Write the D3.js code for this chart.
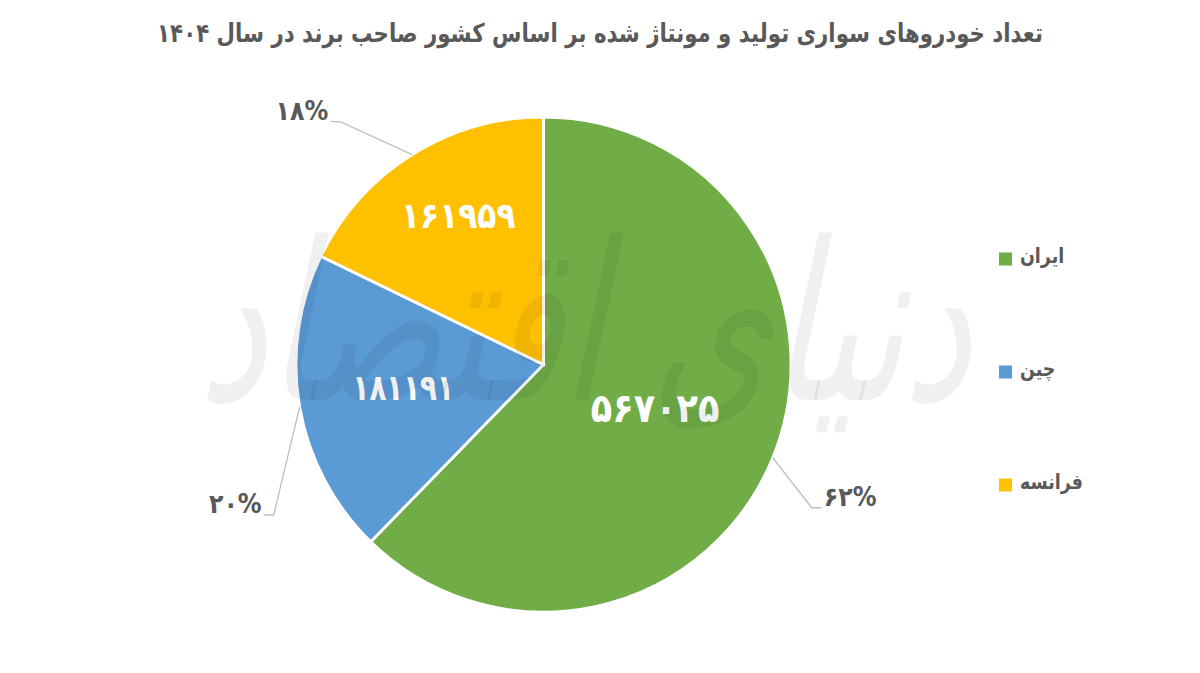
<!DOCTYPE html>
<html lang="fa"><head><meta charset="utf-8">
<script src="https://cdn.jsdelivr.net/npm/d3@7/dist/d3.min.js"></script>
<style>html,body{margin:0;padding:0;background:#fff}svg{display:block}text{font-family:"DejaVu Sans",sans-serif}</style>
</head><body><svg id="c" width="1200" height="673"></svg>
<script>
const categories = ["ایران","چین","فرانسه"];
const values = [567025,181191,161959];
const valueLabels = ["۵۶۷۰۲۵","۱۸۱۱۹۱","۱۶۱۹۵۹"];
const percentLabels = ["۶۲%","۲۰%","۱۸%"];
const colors = ["#70AD47","#5B9BD5","#FFC000"];
const titleText = "تعداد خودروهای سواری تولید و مونتاژ شده بر اساس کشور صاحب برند در سال ۱۴۰۴";
const watermark = "دنیای اقتصاد";

const svg = d3.select("#c");
const cx = 543.5, cy = 364.5, R = 247.5;
const color = d3.scaleOrdinal(categories, colors);
const pie = d3.pie().sort(null).value((d,i)=>values[i]);
const arcs = pie(categories);
const arc = d3.arc().innerRadius(0).outerRadius(R);

svg.append("text").attr("transform","translate(600,42) scale(0.82,1)").attr("text-anchor","middle").attr("direction","rtl")
  .attr("font-size",26).attr("font-weight",700).attr("fill","#595959").text(titleText);

const g = svg.append("g").attr("transform",`translate(${cx},${cy})`);
g.selectAll("path.s").data(arcs).join("path").attr("class","s").attr("d",arc)
  .attr("fill",d=>color(d.data)).attr("stroke","#fff").attr("stroke-width",2.8);

const labelR = [0.5,0.6,0.68];
const labelShift = [[-3,0],[6,0],[4,-4]];
const fontSz = [40,36,36];
const squeeze = [0.88,0.77,0.87];
g.selectAll("text.v").data(arcs).join("text").attr("class","v")
  .attr("transform",(d,i)=>{
    const r=R*labelR[i], c=d3.arc().innerRadius(r).outerRadius(r).centroid(d);
    return `translate(${c[0]+labelShift[i][0]},${c[1]+labelShift[i][1]}) scale(${squeeze[i]},1)`;
  })
  .attr("text-anchor","middle").attr("dominant-baseline","middle")
  .attr("font-size",(d,i)=>fontSz[i]).attr("font-weight",700).attr("fill","#fff")
  .text((d,i)=>valueLabels[i]);

// leader lines: elbow offset from the slice's outer edge
const elbows = [[39,50],[-26,108],[-72,-33]];
const polar = (a,r)=>[Math.sin(a)*r,-Math.cos(a)*r];
arcs.forEach((d,i)=>{
  const m=(d.startAngle+d.endAngle)/2;
  const p0=polar(m,R), p1=[p0[0]+elbows[i][0],p0[1]+elbows[i][1]];
  const side=p0[0]>0?1:-1;
  const p2=[p1[0]+side*10,p1[1]];
  g.append("path").attr("d",d3.line()([p0,p1,p2])).attr("fill","none").attr("stroke","#BFBFBF").attr("stroke-width",1.3);
  g.append("text").attr("transform",`translate(${p2[0]+side*2},${p2[1]-9}) scale(0.88,1)`).attr("text-anchor",side>0?"start":"end")
    .attr("dominant-baseline","middle").attr("font-size",27).attr("font-weight",700).attr("fill","#595959")
    .attr("direction","ltr").text(percentLabels[i]);
});

// legend
const legendY = d3.scalePoint().domain(categories).range([259,485]);
const lg = svg.append("g");
categories.forEach(c=>{
  lg.append("rect").attr("x",999).attr("y",legendY(c)-6.5).attr("width",13).attr("height",13).attr("fill",color(c));
  lg.append("text").attr("transform",`translate(1020,${legendY(c)-2}) scale(0.83,1)`).attr("text-anchor","end").attr("direction","rtl")
    .attr("dominant-baseline","middle").attr("font-size",21).attr("font-weight",700).attr("fill","#595959").text(c);
});

// watermark overlay
svg.append("text").attr("transform","translate(584,400) skewX(-12) scale(0.72,1.05)").attr("text-anchor","middle").attr("direction","rtl")
  .attr("font-size",210).attr("font-weight",400).attr("fill","#000").attr("fill-opacity",0.06).text(watermark);
</script></body></html>
